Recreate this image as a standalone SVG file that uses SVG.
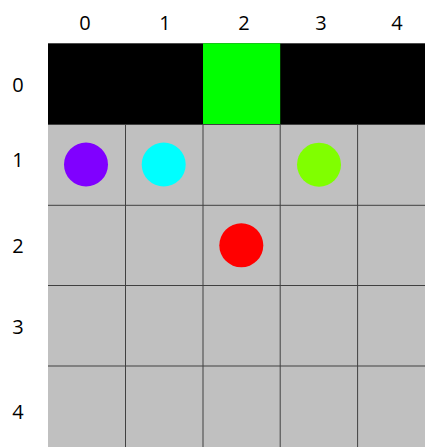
<svg xmlns="http://www.w3.org/2000/svg" width="425" height="447" viewBox="0 0 425 447">
<style>
.lbl{font-family:"Open Sans","Liberation Sans",sans-serif;font-size:20px;fill:#000;text-anchor:middle}
.cell{fill:#c0c0c0}
.grid{stroke:#404040;stroke-width:1;fill:none}
</style>
<rect width="425" height="447" fill="#fff"/>
<g id="board">
<rect class="cell" x="48" y="124.5" width="390" height="323"/>
<rect x="48" y="43.3" width="390" height="81.2" fill="#000"/>
<rect id="goal" x="203" y="43.3" width="77.2" height="81.2" fill="#00ff00"/>
</g>
<g id="gridlines" class="grid">
<line x1="125.5" y1="124.5" x2="125.5" y2="447"/>
<line x1="203" y1="124.5" x2="203" y2="447"/>
<line x1="280.2" y1="124.5" x2="280.2" y2="447"/>
<line x1="357.6" y1="124.5" x2="357.6" y2="447"/>
<line x1="48" y1="124.5" x2="425" y2="124.5"/>
<line x1="48" y1="205.3" x2="425" y2="205.3"/>
<line x1="48" y1="285.5" x2="425" y2="285.5"/>
<line x1="48" y1="366" x2="425" y2="366"/>
</g>
<g id="agents">
<circle id="purple" cx="86" cy="164.5" r="22" fill="#8000ff"/>
<circle id="cyan" cx="163.7" cy="164.5" r="22" fill="#00ffff"/>
<circle id="lime" cx="319" cy="164.7" r="22" fill="#80ff00"/>
<circle id="red" cx="241.3" cy="245.3" r="22" fill="#ff0000"/>
</g>
<g id="col-labels">
<text class="lbl" x="85" y="30">0</text>
<text class="lbl" x="165" y="30">1</text>
<text class="lbl" x="244" y="30">2</text>
<text class="lbl" x="321" y="30">3</text>
<text class="lbl" x="397" y="30">4</text>
</g>
<g id="row-labels">
<text class="lbl" x="18" y="92">0</text>
<text class="lbl" x="18" y="166.5">1</text>
<text class="lbl" x="18" y="252.5">2</text>
<text class="lbl" x="18" y="334">3</text>
<text class="lbl" x="18" y="419">4</text>
</g>
</svg>
